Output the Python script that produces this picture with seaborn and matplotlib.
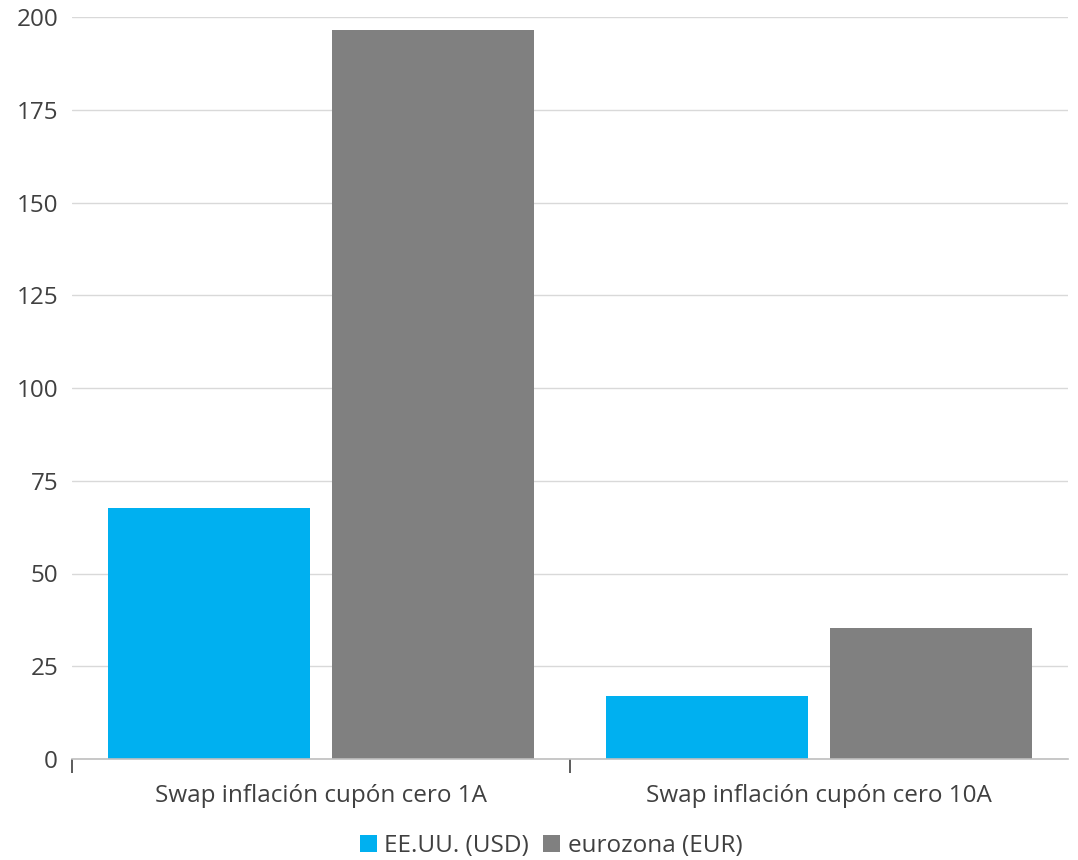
import pandas as pd
import seaborn as sns
import matplotlib.pyplot as plt
from matplotlib.ticker import FixedLocator

# Data
categories = ["Swap inflación cupón cero 1A", "Swap inflación cupón cero 10A"]
series = ["EE.UU. (USD)", "eurozona (EUR)"]
usd_values = [67.6, 17.0]
eur_values = [196.5, 35.3]
y_ticks = [0, 25, 50, 75, 100, 125, 150, 175, 200]

df = pd.DataFrame({
    "Categoria": categories * 2,
    "Serie": [series[0]] * 2 + [series[1]] * 2,
    "Valor": usd_values + eur_values,
})

sns.set_theme(style="white")
plt.rcParams["font.family"] = ["Open Sans", "DejaVu Sans"]
text_color = "#404040"

fig = plt.figure(figsize=(10.78, 8.6), dpi=100)
ax = fig.add_axes([72 / 1078, 1 - 759 / 860, 996 / 1078, 742 / 860])

sns.barplot(data=df, x="Categoria", y="Valor", hue="Serie",
            palette={series[0]: "#00B0F0", series[1]: "#808080"},
            width=0.9, gap=0.1, saturation=1, errorbar=None,
            linewidth=0, ax=ax)

ax.set_xlim(-0.5, 1.5)
ax.set_ylim(0, 200)
ax.set_yticks(y_ticks)
ax.yaxis.grid(True, color="#D9D9D9", linewidth=1)
ax.set_axisbelow(True)
ax.set_xlabel("")
ax.set_ylabel("")

for side in ["top", "right", "left"]:
    ax.spines[side].set_visible(False)
ax.spines["bottom"].set_color("#BFBFBF")
ax.spines["bottom"].set_linewidth(1.2)

ax.tick_params(axis="y", length=0, labelsize=17.5, labelcolor=text_color, pad=10)
ax.tick_params(axis="x", which="major", length=0, labelsize=17.5,
               labelcolor=text_color, pad=18)
ax.xaxis.set_minor_locator(FixedLocator([-0.5, 0.5]))
ax.tick_params(axis="x", which="minor", bottom=True, length=10, width=1.2,
               color="#404040", direction="out")

ax.legend(loc="center", bbox_to_anchor=(551 / 1078, 1 - 846 / 860),
          bbox_transform=fig.transFigure, ncol=2,
          frameon=False, fontsize=17.5, handlelength=0.7, handleheight=0.7,
          handletextpad=0.3, columnspacing=0.6, labelcolor=text_color,
          borderpad=0)

fig.savefig("out.png", dpi=100, facecolor="white")
